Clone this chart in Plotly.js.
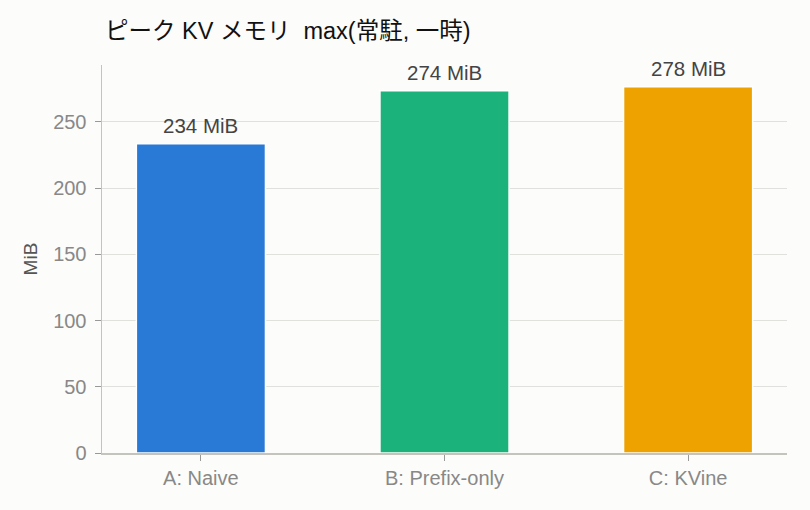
<!DOCTYPE html>
<html>
<head>
<meta charset="utf-8">
<script src="https://cdn.plot.ly/plotly-3.0.1.min.js"></script>
<style>
  html, body { margin: 0; padding: 0; background: #fcfcfa; }
  #chart { width: 810px; height: 510px; }
</style>
</head>
<body>
<div id="chart"></div>
<script>
// chart data
const categories = ["A: Naive", "B: Prefix-only", "C: KVine"];
const peakMiB = [233.5, 273.5, 276.5];
const barLabels = ["234 MiB", "274 MiB", "278 MiB"];
const barColors = ["#2979d6", "#1cb27b", "#eea200"];
const yTicks = [0, 50, 100, 150, 200, 250];

const fontFamily = "'Liberation Sans', 'Noto Sans CJK JP', sans-serif";

const trace = {
  type: "bar",
  x: categories,
  y: peakMiB,
  marker: { color: barColors, line: { color: "#ffffff", width: 1.5 } },
  width: 0.53,
  hoverinfo: "none",
};

// value labels above the bars
const labelNotes = categories.map((c, i) => ({
  x: c,
  y: peakMiB[i],
  text: barLabels[i],
  showarrow: false,
  xanchor: "center",
  yanchor: "bottom",
  yshift: 5,
  font: { family: fontFamily, size: 20.5, color: "#444" },
}));

const layout = {
  width: 810,
  height: 510,
  paper_bgcolor: "#fcfcfa",
  plot_bgcolor: "#fcfcfa",
  margin: { l: 102, r: 23, t: 65, b: 57 },
  font: { family: fontFamily, color: "#888" },
  title: {
    text: "ピーク KV メモリ  max(常駐, 一時)",
    x: 0,
    xref: "paper",
    xanchor: "left",
    y: 1,
    yref: "container",
    yanchor: "top",
    pad: { t: 23, l: 3 },
    font: { family: fontFamily, size: 23.5, color: "#111" },
  },
  annotations: labelNotes,
  xaxis: {
    range: [-0.406, 2.406],
    showline: true,
    linecolor: "#c4c4bd",
    linewidth: 1.5,
    ticks: "outside",
    ticklen: 6,
    tickcolor: "#999",
    tickfont: { size: 20, color: "#888" },
    showgrid: false,
    zeroline: false,
  },
  yaxis: {
    range: [0, 293],
    tickvals: yTicks,
    showline: true,
    linecolor: "#c4c4bd",
    linewidth: 1.5,
    ticks: "outside",
    ticklen: 6,
    tickcolor: "#999",
    tickfont: { size: 20, color: "#888" },
    ticklabelstandoff: 4,
    gridcolor: "#e0e0dc",
    gridwidth: 1,
    zeroline: false,
    title: { text: "MiB", font: { size: 19, color: "#555" }, standoff: 10 },
  },
  showlegend: false,
};

Plotly.newPlot("chart", [trace], layout, { displayModeBar: false, staticPlot: true });
</script>
</body>
</html>
